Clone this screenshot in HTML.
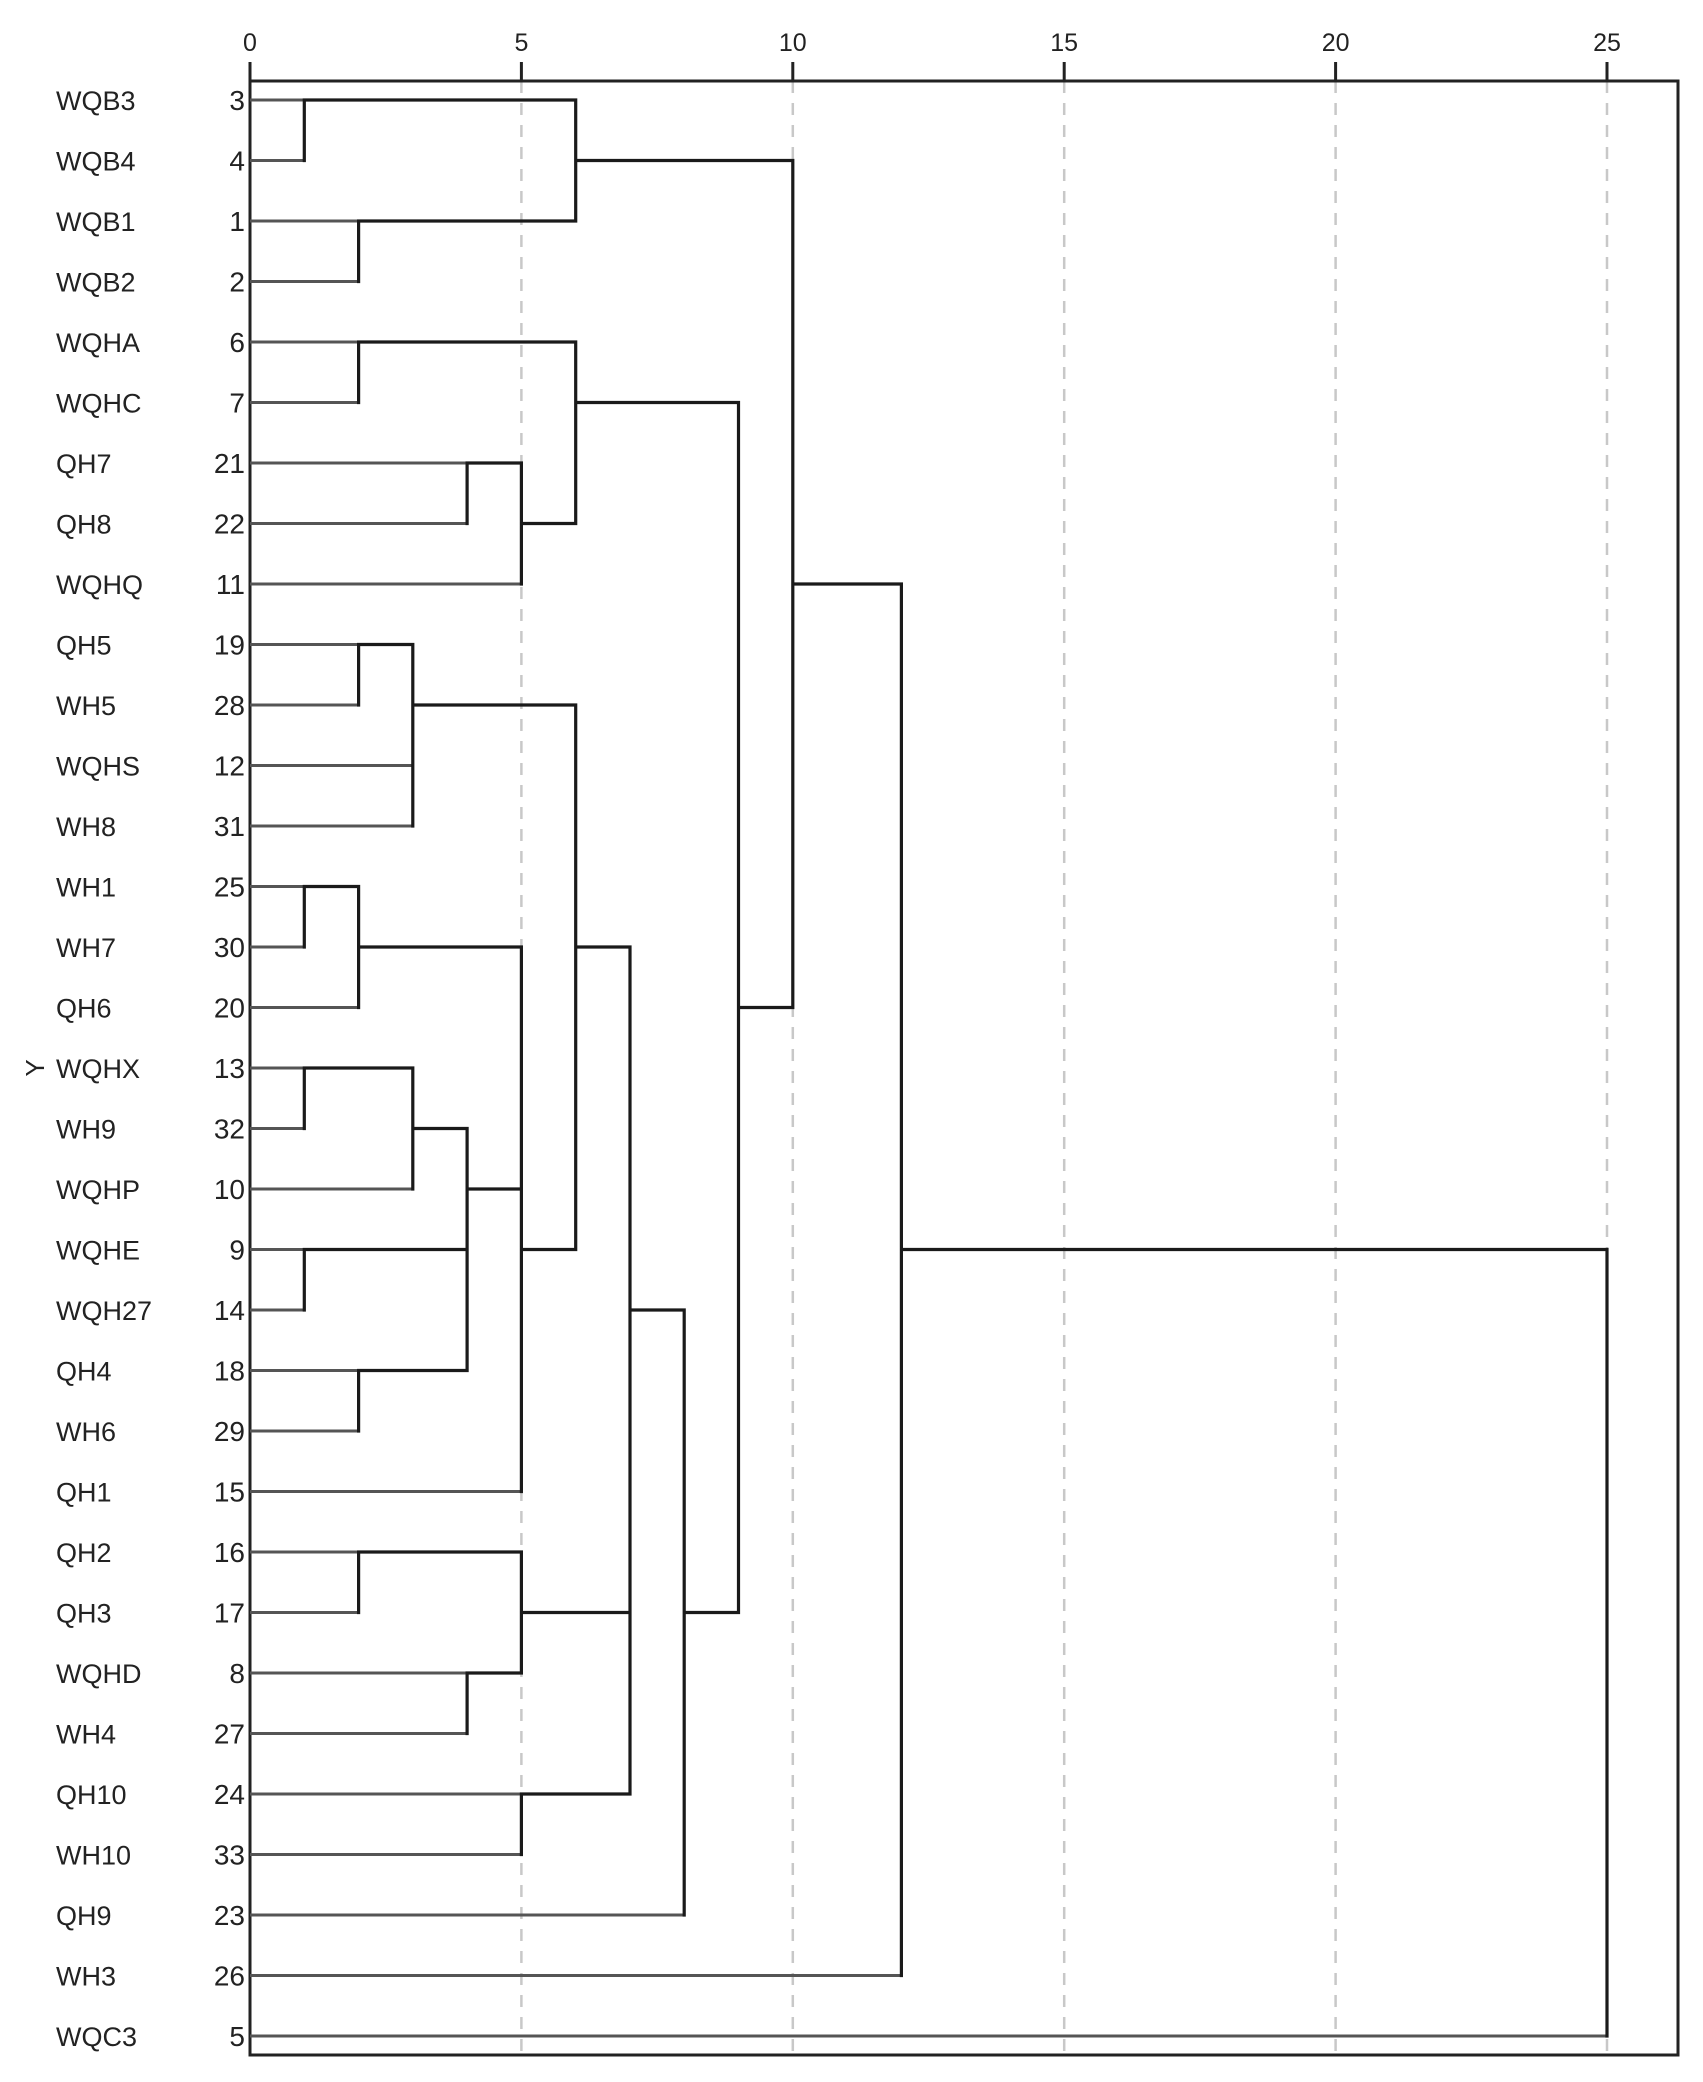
<!DOCTYPE html>
<html><head><meta charset="utf-8"><style>
html,body{margin:0;padding:0;background:#fff;}
svg{display:block;}
text{font-family:"Liberation Sans",Arial,sans-serif;fill:#222;}
</style></head><body>
<svg width="1703" height="2082" viewBox="0 0 1703 2082" xmlns="http://www.w3.org/2000/svg">
<g stroke="#c8c8c8" stroke-width="2.5" stroke-dasharray="12,10">
<line x1="521.4" y1="81" x2="521.4" y2="2055"/>
<line x1="792.8" y1="81" x2="792.8" y2="2055"/>
<line x1="1064.2" y1="81" x2="1064.2" y2="2055"/>
<line x1="1335.6" y1="81" x2="1335.6" y2="2055"/>
<line x1="1607" y1="81" x2="1607" y2="2055"/>
</g>
<rect x="250" y="81" width="1428" height="1974" fill="none" stroke="#222" stroke-width="3"/>
<g stroke="#222" stroke-width="3">
<line x1="250" y1="62" x2="250" y2="81"/>
<line x1="521.4" y1="62" x2="521.4" y2="81"/>
<line x1="792.8" y1="62" x2="792.8" y2="81"/>
<line x1="1064.2" y1="62" x2="1064.2" y2="81"/>
<line x1="1335.6" y1="62" x2="1335.6" y2="81"/>
<line x1="1607" y1="62" x2="1607" y2="81"/>
</g>
<g font-size="25" text-anchor="middle">
<text x="250" y="51">0</text><text x="521.4" y="51">5</text><text x="792.8" y="51">10</text>
<text x="1064.2" y="51">15</text><text x="1335.6" y="51">20</text><text x="1607" y="51">25</text>
</g>
<g stroke="#555" stroke-width="3" fill="none">
<path d="M250 100H304.3 M250 160.5H304.3 M250 221H358.6 M250 281.5H358.6 M250 342H358.6 M250 402.5H358.6 M250 463H467.1 M250 523.5H467.1 M250 584H521.4 M250 644.5H358.6 M250 705H358.6 M250 765.5H412.8 M250 826H412.8 M250 886.5H304.3 M250 947H304.3 M250 1007.5H358.6 M250 1068H304.3 M250 1128.5H304.3 M250 1189H412.8 M250 1249.5H304.3 M250 1310H304.3 M250 1370.5H358.6 M250 1431H358.6 M250 1491.5H521.4 M250 1552H358.6 M250 1612.5H358.6 M250 1673H467.1 M250 1733.5H467.1 M250 1794H521.4 M250 1854.5H521.4 M250 1915H684.2 M250 1975.5H901.4 M250 2036H1607"/>
</g>
<g stroke="#1a1a1a" stroke-width="3.2" fill="none" stroke-linecap="square">
<path d="M304.3 100V160.5 M304.3 100H575.7
M358.6 221V281.5 M358.6 221H575.7
M575.7 100V221 M575.7 160.5H792.8
M358.6 342V402.5 M358.6 342H575.7
M467.1 463V523.5 M467.1 463H521.4
M521.4 463V584 M521.4 523.5H575.7
M575.7 342V523.5 M575.7 402.5H738.5
M358.6 644.5V705 M358.6 644.5H412.8
M412.8 644.5V826 M412.8 705H575.7
M304.3 886.5V947 M304.3 886.5H358.6
M358.6 886.5V1007.5 M358.6 947H521.4
M304.3 1068V1128.5 M304.3 1068H412.8
M412.8 1068V1189 M412.8 1128.5H467.1
M304.3 1249.5V1310 M304.3 1249.5H467.1
M358.6 1370.5V1431 M358.6 1370.5H467.1
M467.1 1128.5V1370.5 M467.1 1189H521.4
M521.4 947V1491.5 M521.4 1249.5H575.7
M575.7 705V1249.5 M575.7 947H630
M358.6 1552V1612.5 M358.6 1552H521.4
M467.1 1673V1733.5 M467.1 1673H521.4
M521.4 1552V1673 M521.4 1612.5H630
M521.4 1794V1854.5 M521.4 1794H630
M630 947V1794 M630 1310H684.2
M684.2 1310V1915 M684.2 1612.5H738.5
M738.5 402.5V1612.5 M738.5 1007.5H792.8
M792.8 160.5V1007.5 M792.8 584H901.4
M901.4 584V1975.5 M901.4 1249.5H1607
M1607 1249.5V2036"/>
</g>
<g font-size="27">
<text x="56" y="110">WQB3</text><text x="56" y="170.5">WQB4</text><text x="56" y="231">WQB1</text><text x="56" y="291.5">WQB2</text>
<text x="56" y="352">WQHA</text><text x="56" y="412.5">WQHC</text><text x="56" y="473">QH7</text><text x="56" y="533.5">QH8</text>
<text x="56" y="594">WQHQ</text><text x="56" y="654.5">QH5</text><text x="56" y="715">WH5</text><text x="56" y="775.5">WQHS</text>
<text x="56" y="836">WH8</text><text x="56" y="896.5">WH1</text><text x="56" y="957">WH7</text><text x="56" y="1017.5">QH6</text>
<text x="56" y="1078">WQHX</text><text x="56" y="1138.5">WH9</text><text x="56" y="1199">WQHP</text><text x="56" y="1259.5">WQHE</text>
<text x="56" y="1320">WQH27</text><text x="56" y="1380.5">QH4</text><text x="56" y="1441">WH6</text><text x="56" y="1501.5">QH1</text>
<text x="56" y="1562">QH2</text><text x="56" y="1622.5">QH3</text><text x="56" y="1683">WQHD</text><text x="56" y="1743.5">WH4</text>
<text x="56" y="1804">QH10</text><text x="56" y="1864.5">WH10</text><text x="56" y="1925">QH9</text><text x="56" y="1985.5">WH3</text>
<text x="56" y="2046">WQC3</text>
</g>
<g font-size="28" text-anchor="end">
<text x="245" y="110">3</text><text x="245" y="170.5">4</text><text x="245" y="231">1</text><text x="245" y="291.5">2</text>
<text x="245" y="352">6</text><text x="245" y="412.5">7</text><text x="245" y="473">21</text><text x="245" y="533.5">22</text>
<text x="245" y="594">11</text><text x="245" y="654.5">19</text><text x="245" y="715">28</text><text x="245" y="775.5">12</text>
<text x="245" y="836">31</text><text x="245" y="896.5">25</text><text x="245" y="957">30</text><text x="245" y="1017.5">20</text>
<text x="245" y="1078">13</text><text x="245" y="1138.5">32</text><text x="245" y="1199">10</text><text x="245" y="1259.5">9</text>
<text x="245" y="1320">14</text><text x="245" y="1380.5">18</text><text x="245" y="1441">29</text><text x="245" y="1501.5">15</text>
<text x="245" y="1562">16</text><text x="245" y="1622.5">17</text><text x="245" y="1683">8</text><text x="245" y="1743.5">27</text>
<text x="245" y="1804">24</text><text x="245" y="1864.5">33</text><text x="245" y="1925">23</text><text x="245" y="1985.5">26</text>
<text x="245" y="2046">5</text>
</g>
<text x="36" y="1068" font-size="26" text-anchor="middle" transform="rotate(-90 36 1068)" dy="8">Y</text>
</svg>
</body></html>
